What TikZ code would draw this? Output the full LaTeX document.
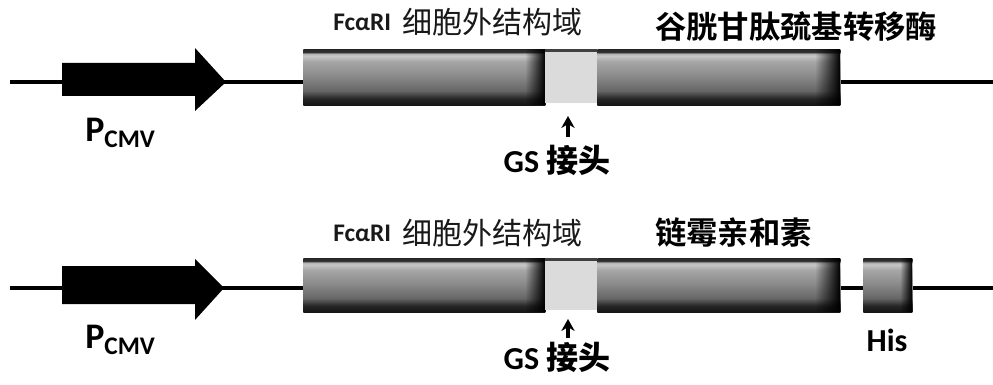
\documentclass[tikz,border=0pt]{standalone}
\usepackage{fontspec}
\setmainfont{Carlito}
\newfontfamily\cjk{Noto Sans CJK SC}
\newfontfamily\cjkb{Noto Sans CJK SC Bold}
\usetikzlibrary{fadings,arrows.meta}
\pgfdeclareverticalshading{geneshade}{100bp}{
  color(0bp)=(black!92); color(25bp)=(black!92); color(31bp)=(black!85); color(38bp)=(black!60);
  color(52bp)=(black!45); color(64bp)=(black!35); color(69bp)=(black!22);
  color(71bp)=(black!30); color(72.5bp)=(black!80); color(75bp)=(black!85); color(100bp)=(black!85)}
\tikzfading[name=toright, left color=transparent!100, right color=transparent!0]
\tikzset{
  gene/.style={draw=none, shading=geneshade, rectangle, inner sep=0pt, anchor=north west},
  gslink/.style={fill=black!14, rectangle, inner sep=0pt, anchor=north west},
  backbone/.style={line width=3pt, black},
  fclab/.style={inner sep=0pt, font=\bfseries\fontsize{19}{22}\selectfont, text=black!90},
  cjklab/.style={inner sep=0pt, font=\cjk\fontsize{22.5}{26}\selectfont, text=black!90},
  cjkblab/.style={inner sep=0pt, font=\cjkb\fontsize{23.5}{26}\selectfont},
  gsarrow/.style={line width=3pt, -{Stealth[length=9pt,width=10pt]}},
  gstext/.style={inner sep=0pt, font=\bfseries\fontsize{24}{28}\selectfont},
  pcmv/.style={inner sep=0pt, anchor=west, font=\bfseries\fontsize{27}{30}\selectfont},
}
\begin{document}
\begin{tikzpicture}[x=0.75pt,y=-0.75pt]
\useasboundingbox (0,0) rectangle (993,385);
% ---------- row 1 ----------
\coordinate (l1a) at (10,82);
\coordinate (l1b) at (993,82);
\draw[backbone] (l1a) -- (l1b);
\fill[black] (62,63) -- (195,63) -- (195,48) -- (226,82) -- (195,111) -- (195,96) -- (62,96) -- cycle;
\node[gene, minimum width=181.5pt, minimum height=42pt] (f1) at (303,49) {};
\node[gslink, minimum width=39pt, minimum height=39pt] (g1) at (545,51) {};
\fill[black!75] (545,49) rectangle (597,52);
\node[gene, minimum width=182.25pt, minimum height=42pt] (s1) at (597,49) {};
\fill[black, path fading=toright] (815,49) rectangle (840,105);
\fill[black, path fading=toright] (525,49) rectangle (545,105);
\node[fclab, anchor=west] (fc1) at (333,22) {FcαRI};
\node[cjklab, anchor=west] (ecd1) at (402,22) {细胞外结构域};
\node[cjkblab, anchor=west] (gst) at (655,27) {谷胱甘肽巯基转移酶};
\node[gstext, anchor=center] (gs1) at (557,160) {GS {\cjkb 接头}};
\coordinate (ga1) at (568,137);
\coordinate (gt1) at (568,116);
\draw[gsarrow] (ga1) -- (gt1);
\node[pcmv] (pc1) at (85,133) {P\raisebox{-5pt}{\fontsize{19}{20}\selectfont CMV}};
% ---------- row 2 ----------
\coordinate (l2a) at (10,288);
\coordinate (l2b) at (993,288);
\draw[backbone] (l2a) -- (l2b);
\fill[black] (62,266) -- (195,266) -- (195,259) -- (224,288) -- (195,320) -- (195,304) -- (62,304) -- cycle;
\node[gene, minimum width=181.5pt, minimum height=40.5pt] (f2) at (303,258) {};
\node[gslink, minimum width=39pt, minimum height=37.5pt] (g2) at (545,260) {};
\fill[black!75] (545,258) rectangle (597,261);
\node[gene, minimum width=182.25pt, minimum height=40.5pt] (s2) at (597,258) {};
\fill[black, path fading=toright] (815,258) rectangle (840,312);
\fill[black, path fading=toright] (525,258) rectangle (545,312);
\node[gene, minimum width=36.75pt, minimum height=40.5pt] (h2) at (863,258) {};
\fill[black, path fading=toright] (900,258) rectangle (912,312);
\node[fclab, anchor=west] (fc2) at (333,233) {FcαRI};
\node[cjklab, anchor=west] (ecd2) at (402,233) {细胞外结构域};
\node[cjkblab, anchor=west] (sa) at (655,233) {链霉亲和素};
\node[gstext, anchor=center] (gs2) at (557,357) {GS {\cjkb 接头}};
\coordinate (ga2) at (568,338);
\coordinate (gt2) at (568,319);
\draw[gsarrow] (ga2) -- (gt2);
\node[pcmv] (pc2) at (85,340) {P\raisebox{-5pt}{\fontsize{19}{20}\selectfont CMV}};
\node[gstext, anchor=center] (his) at (887,340) {His};
\end{tikzpicture}
\end{document}
